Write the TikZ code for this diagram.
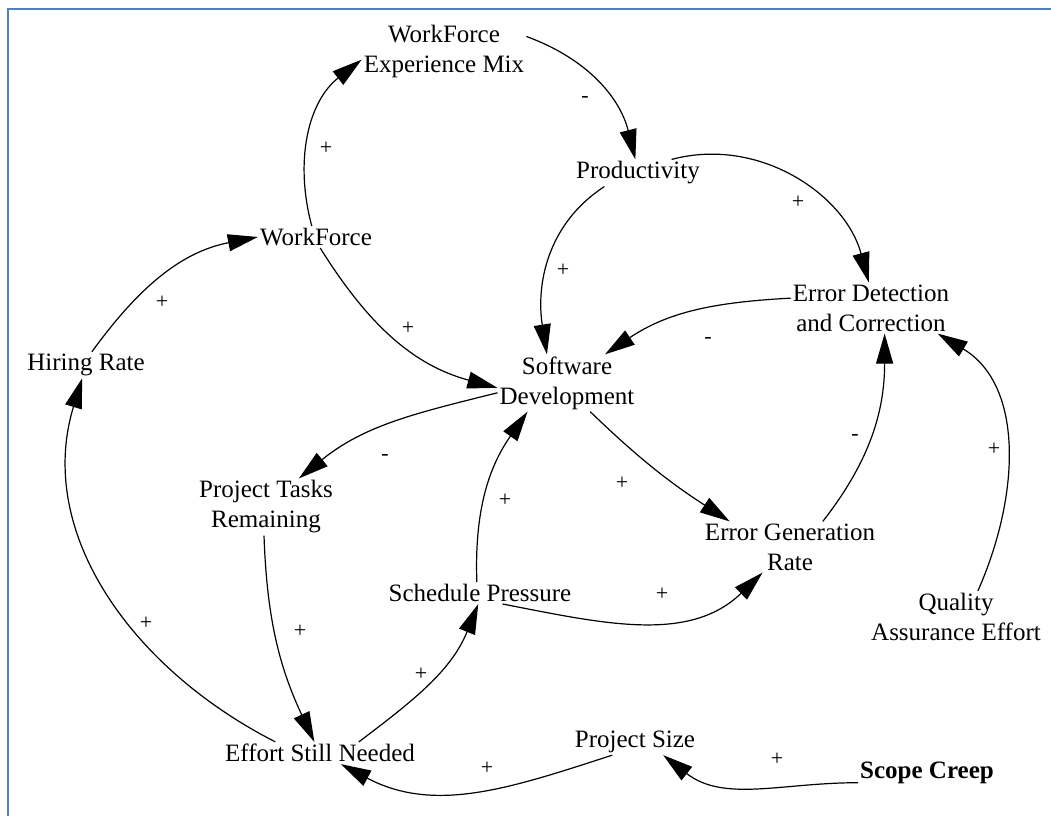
\documentclass[tikz,border=0pt]{standalone}
\usepackage{fontspec}
\setmainfont{Liberation Serif}
\newfontfamily\diagfont{Liberation Serif}
\usepackage{tikz}
\usetikzlibrary{arrows.meta}
\definecolor{frameblue}{HTML}{4F81BD}

\begin{document}
\begin{tikzpicture}[x=1pt, y=1pt,
    var/.style={align=center, inner sep=2pt, font=\diagfont\fontsize{25}{30}\selectfont},
    sign/.style={inner sep=0pt, font=\diagfont\fontsize{22}{22}\selectfont},
    link/.style={-{Triangle[length=30pt, width=17pt]}, line width=1.2pt}
]
\useasboundingbox (0,0) rectangle (1051,-816);
\draw[frameblue, line width=2.5pt] (8,-816) -- (8,-9) -- (1051,-9);

\node[var] (mix) at (444,-51) {WorkForce\\Experience Mix};
\node[var] (prod) at (638,-173) {Productivity};
\node[var] (wf) at (316,-237) {WorkForce};
\node[var] (hiring) at (86,-365) {Hiring Rate};
\node[var] (detect) at (871,-308) {Error Detection\\and Correction};
\node[var] (dev) at (567,-383) {Software\\Development};
\node[var] (tasks) at (266,-507) {Project Tasks\\Remaining};
\node[var] (pressure) at (480,-593) {Schedule Pressure};
\node[var] (errgen) at (790,-547) {Error Generation\\Rate};
\node[var] (qa) at (956,-617) {Quality\\Assurance Effort};
\node[var] (effort) at (320,-753) {Effort Still Needed};
\node[var] (size) at (635,-742) {Project Size};
\node[var, font=\diagfont\fontsize{25}{30}\selectfont\bfseries] (creep) at (927,-773) {Scope Creep};

\draw[link] (wf.111) to[out=105, in=218] (mix.186);
\draw[link] (mix.10) to[out=-20, in=104] (prod.101);
\draw[link] (prod.22) to[out=15, in=105] (detect.95);
\draw[link] (prod.202) to[out=213, in=99] (dev.125);
\draw[link] (detect.173) to[out=183, in=34] (dev.37);
\draw[link] (wf.291) to[out=-58, in=165] (dev.184);
\draw[link] (dev.188) to[out=194, in=39] (tasks.41);
\draw[link] (tasks.266) to[out=-88, in=115] (effort.117);
\draw[link] (effort.166) to[out=153, in=253] (hiring.254);
\draw[link] (hiring.66) to[out=54, in=191] (wf.180);
\draw[link] (effort.16) to[out=37, in=248] (pressure.261);
\draw[link] (pressure.106) to[out=92, in=235] (dev.216);
\draw[link] (dev.309) to[out=-44, in=147] (errgen.157);
\draw[link] (pressure.334) to[out=-11, in=224] (errgen.223);
\draw[link] (errgen.38) to[out=52, in=270] (detect.298);
\draw[link] (qa.50) to[out=66, in=-31] (detect.339);
\draw[link] (creep.188) to[out=180, in=-38] (size.335);
\draw[link] (size.210) to[out=198, in=-28] (effort.332);

% polarity signs
\foreach \x/\y/\s [count=\i] in {326/148/+, 585/99/-, 798/202/+, 563/270/+,
    708/340/-, 408/328/+, 385/457/-, 300/631/+, 146/623/+, 162/302/+,
    421/674/+, 505/500/+, 622/483/+, 662/594/+, 855/437/-, 994/449/+,
    777/759/+, 487/768/+}
  \node[sign] (sign\i) at (\x,-\y) {\s};
\end{tikzpicture}
\end{document}
